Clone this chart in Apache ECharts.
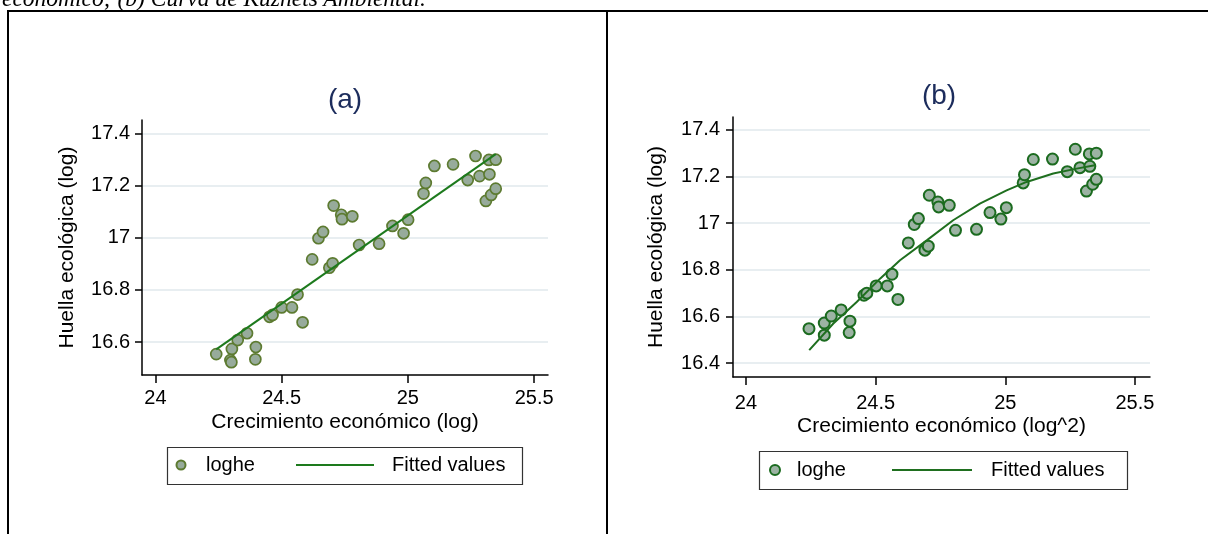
<!DOCTYPE html>
<html><head><meta charset="utf-8">
<script src="https://cdn.jsdelivr.net/npm/echarts@6/dist/echarts.min.js"></script>
<style>
html,body{margin:0;padding:0;background:#fff;}
#wrap{position:relative;width:1208px;height:534px;overflow:hidden;background:#fff;}
#chart{position:absolute;left:0;top:0;width:1208px;height:534px;}
.cap{position:absolute;left:2px;top:-14.5px;font-family:'Liberation Serif','Times New Roman',serif;font-style:italic;font-size:23.5px;line-height:24px;white-space:nowrap;color:#000;}
.hl{position:absolute;left:7px;top:10px;width:1201px;height:2px;background:#000;}
.vl{position:absolute;top:10px;width:2px;height:524px;background:#000;}
</style></head>
<body><div id="wrap"><div id="chart"></div>
<div class="cap">económico; (b) Curva de Kuznets Ambiental.</div>
<div class="hl"></div><div class="vl" style="left:7px"></div><div class="vl" style="left:606px"></div>
</div>
<script>
// ---- data ----
const xTicks = [24, 24.5, 25, 25.5];
const yTicksA = [16.6, 16.8, 17, 17.2, 17.4];
const yTicksB = [16.4, 16.6, 16.8, 17, 17.2, 17.4];

const xA = [24.241,24.303,24.297,24.301,24.326,24.363,24.398,24.396,24.452,24.464,24.500,24.541,24.563,24.583,24.621,24.646,24.664,24.689,24.702,24.706,24.736,24.739,24.780,24.807,24.886,24.939,24.983,25.001,25.062,25.071,25.105,25.179,25.237,25.268,25.284,25.321,25.348,25.323,25.309,25.330,25.348];
const yA = [16.554,16.574,16.531,16.523,16.608,16.634,16.581,16.534,16.697,16.704,16.733,16.733,16.782,16.676,16.917,16.998,17.022,16.885,16.902,17.123,17.088,17.071,17.082,16.972,16.977,17.045,17.017,17.069,17.169,17.210,17.275,17.281,17.221,17.313,17.236,17.298,17.299,17.243,17.141,17.164,17.188];
const fitXA = [24.241, 25.348];
const fitYA = [16.572, 17.320];

const xB = [24.243,24.302,24.302,24.329,24.367,24.401,24.398,24.455,24.466,24.502,24.545,24.563,24.586,24.626,24.649,24.665,24.690,24.703,24.707,24.740,24.743,24.784,24.808,24.889,24.941,24.983,25.004,25.069,25.074,25.108,25.182,25.239,25.270,25.288,25.324,25.351,25.326,25.313,25.337,25.351];
const yB = [16.548,16.572,16.520,16.602,16.628,16.580,16.531,16.691,16.700,16.731,16.731,16.781,16.673,16.915,16.994,17.019,16.884,16.901,17.119,17.090,17.069,17.076,16.969,16.973,17.045,17.017,17.066,17.172,17.207,17.272,17.274,17.220,17.316,17.237,17.296,17.299,17.243,17.137,17.166,17.187];
const fitXB = [24.244,24.337,24.427,24.517,24.594,24.697,24.799,24.902,25.005,25.082,25.185,25.275,25.345];
const fitYB = [16.456,16.570,16.662,16.762,16.841,16.926,17.012,17.083,17.140,17.176,17.212,17.233,17.247];

const titles = ['(a)', '(b)'];
const xNames = ['Crecimiento económico (log)', 'Crecimiento económico (log^2)'];
const yName = 'Huella ecológica (log)';
const scatterName = 'loghe';
const fitName = 'Fitted values';

// ---- build ----
const FONT = "'Liberation Sans', Arial, sans-serif";
const pair = (xs, ys) => xs.map((x, i) => [x, ys[i]]);
const fmt = v => String(Math.round(v * 10) / 10);

function xAxis(gi, min, max, name, margin, gap) {
  return {
    type: 'value', gridIndex: gi, min, max, name, nameLocation: 'middle', nameGap: gap,
    nameTextStyle: { fontFamily: FONT, fontSize: 21, color: '#000' },
    axisLine: { show: true, onZero: false, lineStyle: { color: '#000', width: 1.5 } },
    axisTick: { show: true, length: 8, customValues: xTicks, lineStyle: { color: '#000', width: 1.5 } },
    axisLabel: { customValues: xTicks, margin, formatter: fmt, fontFamily: FONT, fontSize: 20, color: '#000' },
    splitLine: { show: false }
  };
}
function yAxis(gi, min, max, ticks, margin, gap) {
  return {
    type: 'value', gridIndex: gi, min, max, name: yName, nameLocation: 'middle', nameGap: gap,
    nameTextStyle: { fontFamily: FONT, fontSize: 21, color: '#000' },
    axisLine: { show: true, onZero: false, lineStyle: { color: '#000', width: 1.5 } },
    axisTick: { show: true, length: 7, customValues: ticks, lineStyle: { color: '#000', width: 1.5 } },
    axisLabel: { customValues: ticks, margin, formatter: fmt, fontFamily: FONT, fontSize: 20, color: '#000' },
    splitLine: { show: true, lineStyle: { color: '#e8eef1', width: 2 } }
  };
}

const legendText = { fontFamily: FONT, fontSize: 20, color: '#000' };
const padText = p => Object.assign({ padding: [0, 0, 0, p] }, legendText);
const stripName = n => n.replace(/ \(b\)$/, '');

const option = {
  animation: false,
  backgroundColor: '#fff',
  grid: [
    { left: 142, top: 120, width: 406, height: 255 },
    { left: 733, top: 117, width: 417, height: 260 }
  ],
  xAxis: [
    xAxis(0, 23.947, 25.555, xNames[0], 13, 37),
    xAxis(1, 23.950, 25.558, xNames[1], 16, 39)
  ],
  yAxis: [
    yAxis(0, 16.474, 17.451, yTicksA, 12, 64),
    yAxis(1, 16.341, 17.454, yTicksB, 13, 66)
  ],
  legend: [
    { data: [scatterName], left: 175.5, top: 455, padding: 0, itemWidth: 9, itemHeight: 9, textStyle: padText(15.5), formatter: stripName, selectedMode: false },
    { data: [{ name: fitName, icon: 'rect' }], left: 296, top: 455, padding: 0, itemWidth: 78, itemHeight: 2, textStyle: padText(13), formatter: stripName, selectedMode: false },
    { data: [scatterName + ' (b)'], left: 769, top: 460, padding: 0, itemWidth: 10, itemHeight: 10, textStyle: padText(12), formatter: stripName, selectedMode: false },
    { data: [{ name: fitName + ' (b)', icon: 'rect' }], left: 892, top: 460, padding: 0, itemWidth: 80, itemHeight: 2, textStyle: padText(14), formatter: stripName, selectedMode: false }
  ],
  graphic: [
    { type: 'text', x: 345, y: 100, style: { text: titles[0], align: 'center', verticalAlign: 'middle', fontFamily: FONT, fontSize: 28, fill: '#1c2c5c' } },
    { type: 'text', x: 939, y: 96, style: { text: titles[1], align: 'center', verticalAlign: 'middle', fontFamily: FONT, fontSize: 28, fill: '#1c2c5c' } },
    { type: 'rect', shape: { x: 167.5, y: 447.5, width: 355, height: 37 }, style: { fill: 'none', stroke: '#333', lineWidth: 1.2 } },
    { type: 'rect', shape: { x: 759.5, y: 451.5, width: 368, height: 38 }, style: { fill: 'none', stroke: '#333', lineWidth: 1.2 } }
  ],
  series: [
    { name: scatterName, type: 'scatter', xAxisIndex: 0, yAxisIndex: 0, data: pair(xA, yA), symbolSize: 11, z: 2,
      itemStyle: { color: '#97ab9b', borderColor: '#5d7b31', borderWidth: 1.7, opacity: 1 } },
    { name: fitName, type: 'line', xAxisIndex: 0, yAxisIndex: 0, data: pair(fitXA, fitYA), symbol: 'none', z: 3,
      lineStyle: { color: '#1d7a1d', width: 2 }, itemStyle: { color: '#1d7a1d' } },
    { name: scatterName + ' (b)', type: 'scatter', xAxisIndex: 1, yAxisIndex: 1, data: pair(xB, yB), symbolSize: 11, z: 2,
      itemStyle: { color: '#9cb3a3', borderColor: '#1b6b1f', borderWidth: 2, opacity: 1 } },
    { name: fitName + ' (b)', type: 'line', xAxisIndex: 1, yAxisIndex: 1, data: pair(fitXB, fitYB), symbol: 'none', z: 3,
      lineStyle: { color: '#1f6f1f', width: 2 }, itemStyle: { color: '#1f6f1f' } }
  ]
};
const chart = echarts.init(document.getElementById('chart'), null, { renderer: 'canvas' });
chart.setOption(option);
</script>
</body></html>
